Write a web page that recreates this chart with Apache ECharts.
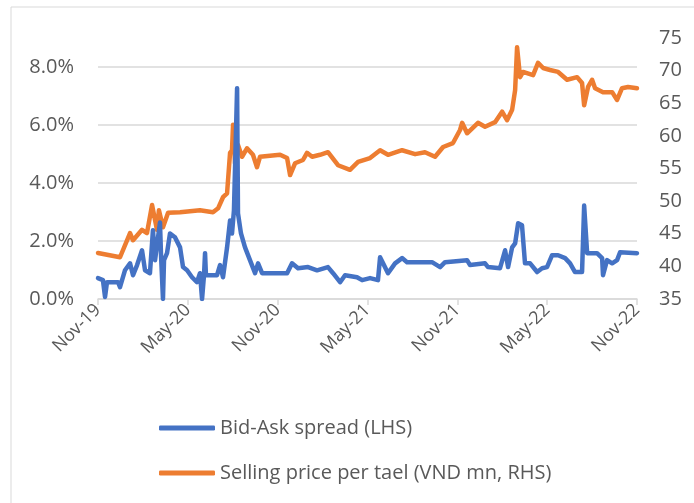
<!DOCTYPE html>
<html>
<head>
<meta charset="utf-8">
<script src="https://cdn.jsdelivr.net/npm/echarts@6/dist/echarts.min.js"></script>
<style>
  html, body { margin: 0; padding: 0; background: #fff; }
  #chart { width: 694px; height: 503px; }
</style>
</head>
<body>
<div id="chart"></div>
<script>
// x values are months since Nov-19
const xLabels = ['Nov-19', 'May-20', 'Nov-20', 'May-21', 'Nov-21', 'May-22', 'Nov-22'];

const spreadX = [0, 0.33, 0.47, 0.6, 1.34, 1.47, 1.8, 2.14, 2.34, 2.61, 2.94, 3.14, 3.47, 3.67, 3.81, 4.14, 4.21, 4.34, 4.41, 4.61, 4.81, 5.14, 5.48, 5.68, 5.95, 6.28, 6.61, 6.81, 6.95, 7.08, 7.15, 7.21, 7.35, 7.95, 8.15, 8.35, 8.62, 8.82, 8.95, 9.08, 9.29, 9.35, 9.55, 9.82, 10.15, 10.49, 10.69, 10.96, 12.63, 12.96, 13.36, 14.03, 14.63, 15.36, 15.7, 16.17, 16.5, 17.3, 17.64, 18.17, 18.7, 18.84, 19.04, 19.37, 19.84, 20.31, 20.64, 22.31, 22.85, 23.18, 24.65, 24.85, 25.85, 26.05, 26.85, 27.19, 27.39, 27.66, 27.86, 28.06, 28.32, 28.52, 28.86, 29.33, 29.66, 29.99, 30.33, 30.73, 31.2, 31.53, 31.86, 32.33, 32.47, 32.67, 33.33, 33.67, 33.73, 34.0, 34.34, 34.67, 34.87, 36];
const spreadY = [0.72, 0.65, 0.07, 0.58, 0.58, 0.41, 0.99, 1.23, 0.82, 1.17, 1.68, 0.99, 0.89, 2.37, 1.34, 2.64, 1.5, 0.0, 1.34, 1.58, 2.26, 2.13, 1.78, 1.1, 0.99, 0.75, 0.58, 0.89, 0.0, 0.82, 1.58, 0.82, 0.82, 0.82, 1.17, 0.75, 1.78, 2.71, 2.26, 3.05, 7.27, 2.95, 2.26, 1.78, 1.34, 0.89, 1.23, 0.89, 0.89, 1.23, 1.06, 1.1, 0.99, 1.1, 0.89, 0.58, 0.82, 0.75, 0.65, 0.72, 0.65, 1.44, 1.23, 0.89, 1.23, 1.41, 1.27, 1.27, 1.1, 1.27, 1.34, 1.17, 1.23, 1.1, 1.06, 1.68, 1.1, 1.78, 1.92, 2.61, 2.54, 1.23, 1.23, 0.93, 1.06, 1.1, 1.51, 1.51, 1.41, 1.23, 0.93, 0.93, 3.22, 1.58, 1.58, 1.41, 0.82, 1.34, 1.23, 1.34, 1.61, 1.58];

const priceX = [0, 1.47, 2.14, 2.34, 2.94, 3.27, 3.61, 3.94, 4.07, 4.34, 4.68, 5.48, 6.81, 7.68, 8.02, 8.35, 8.62, 8.82, 8.95, 9.02, 9.15, 9.35, 9.62, 9.95, 10.35, 10.62, 10.82, 12.16, 12.63, 12.83, 13.16, 13.69, 13.96, 14.3, 14.83, 15.36, 16.03, 16.83, 17.37, 18.17, 18.84, 19.37, 20.31, 21.18, 21.84, 22.51, 23.05, 23.71, 24.18, 24.32, 24.65, 25.38, 25.85, 26.52, 26.99, 27.32, 27.66, 27.86, 27.99, 28.19, 28.39, 29.06, 29.39, 29.73, 30.19, 30.73, 31.33, 32.0, 32.33, 32.47, 32.73, 33.0, 33.2, 33.73, 34.34, 34.67, 35.0, 35.4, 36];
const priceY = [42.05, 41.4, 45.1, 44.0, 45.6, 45.1, 49.4, 45.6, 48.6, 46.0, 48.2, 48.3, 48.6, 48.3, 48.9, 50.6, 51.2, 57.4, 57.8, 61.7, 55.8, 58.6, 56.8, 58.1, 57.1, 55.2, 56.8, 57.1, 56.6, 54.0, 55.8, 56.3, 57.4, 56.8, 57.1, 57.5, 55.5, 54.8, 56.0, 56.6, 57.8, 57.1, 57.8, 57.2, 57.5, 56.8, 58.3, 58.9, 60.9, 62.0, 60.4, 62.0, 61.4, 62.1, 63.7, 62.4, 64.0, 67.0, 73.6, 69.0, 69.8, 69.3, 71.2, 70.4, 70.1, 69.8, 68.6, 69.0, 68.1, 64.7, 67.5, 68.6, 67.3, 66.7, 66.7, 65.5, 67.3, 67.5, 67.3];

const colors = {
  blue: '#4472C4',
  orange: '#ED7D31',
  text: '#595959',
  grid: '#D9D9D9'
};
const font = '"Open Sans", sans-serif';

const chart = echarts.init(document.getElementById('chart'));
chart.setOption({
  animation: false,
  textStyle: { fontFamily: font, color: colors.text },
  graphic: [{
    type: 'rect',
    shape: { x: 11, y: 7, width: 720, height: 520 },
    style: { fill: 'none', stroke: colors.grid, lineWidth: 1 }
  }],
  grid: { left: 98, right: 57, top: 38, bottom: 204 },
  legend: {
    orient: 'vertical',
    left: 154,
    top: 413,
    itemWidth: 56,
    itemHeight: 5,
    itemGap: 25,
    itemTextGap: 4,
    icon: 'roundRect',
    textStyle: { fontFamily: font, fontSize: 20, color: colors.text },
    data: ['Bid-Ask spread (LHS)', 'Selling price per tael (VND mn, RHS)']
  },
  xAxis: {
    type: 'value',
    min: 0, max: 36, interval: 6,
    axisLine: { lineStyle: { color: colors.grid, width: 1.5 } },
    axisTick: { show: true, length: 6, lineStyle: { color: colors.grid, width: 1.5 } },
    splitLine: { show: false },
    axisLabel: {
      rotate: 45, fontSize: 18, color: colors.text, margin: 8,
      formatter: v => xLabels[Math.round(v / 6)] || ''
    }
  },
  yAxis: [
    {
      type: 'value',
      min: 0, max: 9, interval: 2,
      axisLine: { show: false },
      axisTick: { show: false },
      splitLine: { lineStyle: { color: [colors.grid, colors.grid, colors.grid, colors.grid, colors.grid, 'transparent'], width: 1.5 } },
      axisLabel: {
        fontSize: 20, color: colors.text, margin: 24,
        formatter: v => v > 8.5 ? '' : v.toFixed(1) + '%'
      }
    },
    {
      type: 'value',
      min: 35, max: 75, interval: 5,
      axisLine: { show: false },
      axisTick: { show: false },
      splitLine: { show: false },
      axisLabel: { fontSize: 20, color: colors.text, margin: 22 }
    }
  ],
  series: [
    {
      name: 'Bid-Ask spread (LHS)',
      type: 'line',
      yAxisIndex: 0,
      data: spreadX.map((x, i) => [x, spreadY[i]]),
      showSymbol: false,
      z: 3,
      lineStyle: { color: colors.blue, width: 4.5, cap: 'round', join: 'round' },
      itemStyle: { color: colors.blue }
    },
    {
      name: 'Selling price per tael (VND mn, RHS)',
      type: 'line',
      yAxisIndex: 1,
      data: priceX.map((x, i) => [x, priceY[i]]),
      showSymbol: false,
      z: 2,
      lineStyle: { color: colors.orange, width: 4.5, cap: 'round', join: 'round' },
      itemStyle: { color: colors.orange }
    }
  ]
});
</script>
</body>
</html>
